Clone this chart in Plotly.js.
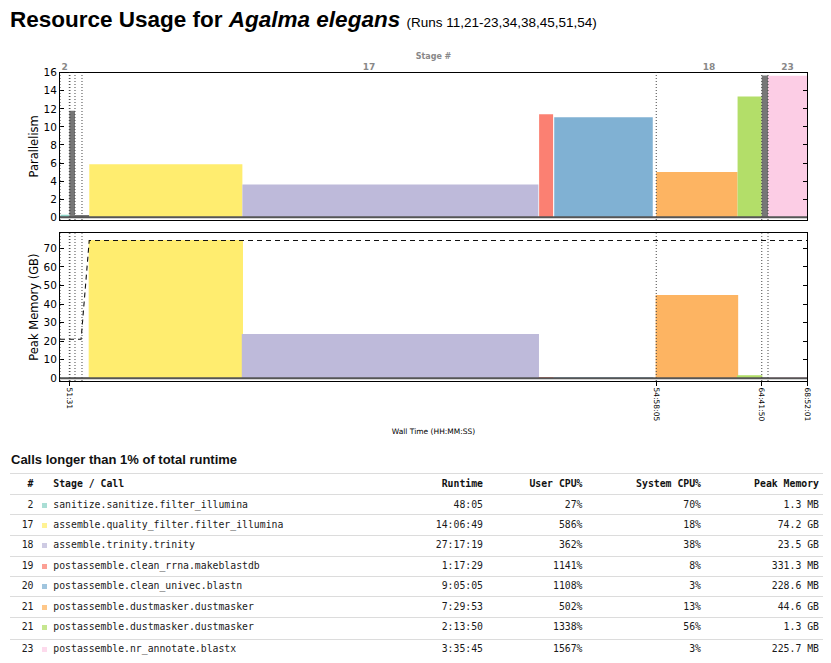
<!DOCTYPE html>
<html><head><meta charset="utf-8">
<script src="https://cdn.plot.ly/plotly-3.0.1.min.js"></script>
<style>
body{margin:0;background:#fff;width:831px;height:663px;overflow:hidden;position:relative;font-family:'Liberation Sans',Arial,sans-serif}
#chart{position:absolute;left:0;top:0;width:831px;height:445px}
#tabtitle{position:absolute;left:11px;top:452px;font-weight:bold;font-size:13px;line-height:16px;font-family:'Liberation Sans',Arial,sans-serif;color:#111}
#tbl{position:absolute;left:0;top:0;width:831px;height:663px;pointer-events:none}
.line{position:absolute;left:10px;width:813px;height:0;border-top:1px solid #dcdcdc}
.cell{position:absolute;font-family:'DejaVu Sans Mono',monospace;font-size:9.8px;color:#1a1a1a;white-space:nowrap;line-height:20px;height:20px}
.hdr{font-weight:bold;color:#111}
.r{text-align:right}
.sq{position:absolute;width:5px;height:5px}
</style></head>
<body>
<div id="chart"></div>
<div id="tabtitle">Calls longer than 1% of total runtime</div>
<div id="tbl"></div>
<script>
// ---------- data ----------
const stageNums = ['2','17','18','19','20','21','21','23'];
const callNames = ['sanitize.sanitize.filter_illumina','assemble.quality_filter.filter_illumina','assemble.trinity.trinity','postassemble.clean_rrna.makeblastdb','postassemble.clean_univec.blastn','postassemble.dustmasker.dustmasker','postassemble.dustmasker.dustmasker','postassemble.nr_annotate.blastx'];
const runtimes = ['48:05','14:06:49','27:17:19','1:17:29','9:05:05','7:29:53','2:13:50','3:35:45'];
const userCPU = ['27%','586%','362%','1141%','1108%','502%','1338%','1567%'];
const sysCPU = ['70%','18%','38%','8%','3%','13%','56%','3%'];
const peakMem = ['1.3 MB','74.2 GB','23.5 GB','331.3 MB','228.6 MB','44.6 GB','1.3 GB','225.7 MB'];
const callColors = ['#8dd3c7','#ffed6f','#bebada','#fb8072','#80b1d3','#fdb462','#b3de69','#fccde5'];
const callStart = [150, 9720, 60530, 159010, 164025, 197885, 224880, 234976]; // seconds of wall time

const otherStart = [3091, 4976, 232910];
const otherDur = [1885, 4700, 2066];
const otherPar = [11.8, 0.25, 15.7];
const otherMem = [0.1, 0.1, 0.1];

const totalTime = 247921;
const boundaryTimes = [0, 3091, 3300, 4976, 7298, 197885, 232910, 234976];
const stageLabels = ['2','17','18','23'];
const stageSpans = [[0,3091],[7298,197885],[197885,232910],[234976,247921]];
const tickTimes = [3091, 197885, 232910, 247921];

const memLineT = [0, 7000, 9700, 247921];
const memLineV = [21, 21, 74.2, 74.2];

// ---------- helpers ----------
function toSec(s){const p=s.split(':').map(Number);return p.reduce((a,b)=>a*60+b,0);}
function fmt(t){const h=Math.floor(t/3600),m=Math.floor(t%3600/60),s=t%60;const pad=n=>String(n).padStart(2,'0');return h? h+':'+pad(m)+':'+pad(s) : m+':'+pad(s);}
function toGB(s){const [v,u]=s.split(' ');const x=parseFloat(v);return u==='GB'?x:u==='MB'?x/1000:x/1e6;}

const dur = runtimes.map(toSec);
const par = userCPU.map(s=>parseFloat(s)/100);
const mem = peakMem.map(toGB);
const mid = callStart.map((s,i)=>s+dur[i]/2);
const otherMid = otherStart.map((s,i)=>s+otherDur[i]/2);

const traces = [
 {type:'bar',x:mid,y:par,width:dur,xaxis:'x2',yaxis:'y',marker:{color:callColors,line:{width:0}},hoverinfo:'skip',showlegend:false},
 {type:'bar',x:otherMid,y:otherPar,width:otherDur,xaxis:'x2',yaxis:'y',marker:{color:'#777',line:{width:0}},hoverinfo:'skip',showlegend:false},
 {type:'bar',x:mid,y:mem,width:dur,xaxis:'x',yaxis:'y2',marker:{color:callColors,line:{color:callColors,width:1.2}},hoverinfo:'skip',showlegend:false},
 {type:'bar',x:otherMid,y:otherMem,width:otherDur,xaxis:'x',yaxis:'y2',marker:{color:'#777',line:{color:'#777',width:1.2}},hoverinfo:'skip',showlegend:false},
 {type:'scatter',mode:'lines',x:memLineT,y:memLineV,xaxis:'x',yaxis:'y2',line:{color:'#111',width:1.1,dash:'5px,4px'},hoverinfo:'skip',showlegend:false}
];

const shapes = [];
boundaryTimes.forEach(t=>{
  shapes.push({type:'line',xref:'x2',yref:'y domain',x0:t,x1:t,y0:0,y1:1,line:{color:'#444',width:1,dash:'1px,2px'}});
  shapes.push({type:'line',xref:'x',yref:'y2 domain',x0:t,x1:t,y0:0,y1:1,line:{color:'#444',width:1,dash:'1px,2px'}});
});
shapes.push({type:'line',xref:'x2 domain',yref:'y',x0:0,x1:1,y0:0,y1:0,line:{color:'#555',width:2}});
shapes.push({type:'line',xref:'x domain',yref:'y2',x0:0,x1:1,y0:0,y1:0,line:{color:'#555',width:2}});

const tickFont = {family:'DejaVu Sans',size:10.5,color:'#000'};
const H = 445;
const layout = {
  width:831,height:H,margin:{l:60,r:23.7,t:0,b:0},
  paper_bgcolor:'#fff',plot_bgcolor:'#fff',barmode:'overlay',
  font:{family:'DejaVu Sans',color:'#000'},
  title:{text:'<b>Resource Usage for <i>Agalma elegans</i></b> <span style="font-size:13.5px">(Runs 11,21-23,34,38,45,51,54)</span>',
    font:{family:'Liberation Sans',size:22.5,color:'#000'},xref:'container',yref:'container',x:10/831,xanchor:'left',y:1-19/H,yanchor:'middle'},
  xaxis:{anchor:'y2',domain:[0,1],range:[0,totalTime],tickvals:tickTimes,ticktext:tickTimes.map(fmt),tickangle:90,
    tickfont:{family:'DejaVu Sans',size:7.5,color:'#000'},ticks:'outside',ticklen:4,tickcolor:'#000',
    showline:true,mirror:true,linecolor:'#000',linewidth:1,showgrid:false,zeroline:false,
    title:{text:'Wall Time (HH:MM:SS)',font:{family:'DejaVu Sans',size:7.5,color:'#000'},standoff:8}},
  xaxis2:{anchor:'y',matches:'x',side:'top',range:[0,totalTime],tickvals:stageSpans.map(s=>(s[0]+s[1])/2),ticktext:stageLabels,
    tickfont:{family:'DejaVu Sans',size:9,color:'#888',weight:'bold'},ticks:'',ticklabelstandoff:-2,
    showline:true,mirror:true,linecolor:'#000',linewidth:1,showgrid:false,zeroline:false,
    title:{text:'Stage #',font:{family:'DejaVu Sans',size:8,color:'#888',weight:'bold'},standoff:1}},
  yaxis:{domain:[1-220/H,1-72.7/H],range:[-0.3,16],dtick:2,tick0:0,ticks:'inside',ticklen:4,tickcolor:'#000',
    showline:true,mirror:'ticks',linecolor:'#000',linewidth:1,showgrid:false,zeroline:false,tickfont:tickFont,
    title:{text:'Parallelism',font:{family:'DejaVu Sans',size:11.5,color:'#000'},standoff:2}},
  yaxis2:{anchor:'x',domain:[1-381/H,1-233.3/H],range:[-1.45,78.1],tickvals:[0,10,20,30,40,50,60,70],ticks:'inside',ticklen:4,tickcolor:'#000',
    showline:true,mirror:'ticks',linecolor:'#000',linewidth:1,showgrid:false,zeroline:false,tickfont:tickFont,
    title:{text:'Peak Memory (GB)',font:{family:'DejaVu Sans',size:11.5,color:'#000'},standoff:2}},
  shapes:shapes
};
Plotly.newPlot('chart',traces,layout,{displayModeBar:false,staticPlot:true});

// ---------- table ----------
const tbl = document.getElementById('tbl');
const lineTops = [473.3,494.3,514.3,535,555.5,575.7,596.3,616.7,639];
function addLine(y){const d=document.createElement('div');d.className='line';d.style.top=y+'px';tbl.appendChild(d);}
function addCell(txt,top,left,width,right,cls){const d=document.createElement('div');d.className='cell'+(cls?' '+cls:'')+(right?' r':'');d.textContent=txt;d.style.top=top+'px';d.style.left=left+'px';if(width)d.style.width=width+'px';tbl.appendChild(d);}
lineTops.forEach(addLine);
const colRight = [33.5, 483, 582.5, 701, 819];
function addRow(top,cells,cls){
  addCell(cells[0],top,0,colRight[0],true,cls);
  addCell(cells[1],top,53.3,null,false,cls);
  for(let k=2;k<6;k++) addCell(cells[k],top,colRight[k-1]-150,150,true,cls);
}
addRow(lineTops[0]+0.5,['#','Stage / Call','Runtime','User CPU%','System CPU%','Peak Memory'],'hdr');
for(let i=0;i<stageNums.length;i++){
  const top = lineTops[i+1]+0.3;
  addRow(top,[stageNums[i],callNames[i],runtimes[i],userCPU[i],sysCPU[i],peakMem[i]]);
  const sq=document.createElement('div');sq.className='sq';sq.style.background=callColors[i];sq.style.opacity=0.75;
  sq.style.left='41.5px';sq.style.top=(top+8)+'px';tbl.appendChild(sq);
}
</script>
</body></html>
